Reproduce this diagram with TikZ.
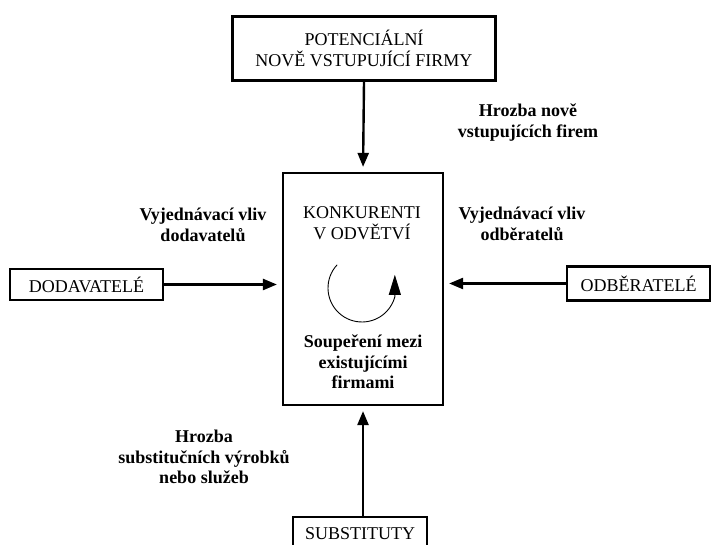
\documentclass[tikz,border=0pt]{standalone}
\usepackage{fontspec}
\setmainfont{Liberation Serif}
\usetikzlibrary{arrows.meta}
\begin{document}
\begin{tikzpicture}[x=1pt,y=1pt,
  box/.style={draw, line width=2.2pt, inner sep=0pt, align=center, font=\fontsize{18}{20.5}\selectfont},
  txt/.style={align=center, font=\fontsize{18}{20.5}\selectfont},
  lbl/.style={align=center, font=\fontsize{18}{20.5}\selectfont\bfseries},
  arr/.style={line width=2.4pt, -{Triangle[length=14pt,width=11pt]}, shorten >=5pt},
]
\useasboundingbox (0,0) rectangle (711,545);
\clip (0,0) rectangle (711,545);
% boxes
\node[box, minimum width=263pt, minimum height=64pt] (pot) at (364,496.5) {POTENCIÁLNÍ\\NOVĚ VSTUPUJÍCÍ FIRMY};
\node[box, minimum width=160pt, minimum height=232pt] (kon) at (363,256) {};
\node[box, minimum width=153pt, minimum height=31pt] (dod) at (86.5,260.5) {DODAVATELÉ};
\node[box, minimum width=143pt, minimum height=34pt] (odb) at (638.5,261.5) {ODBĚRATELÉ};
\node[box, minimum width=134pt, minimum height=33pt] (sub) at (360,11.5) {SUBSTITUTY};
% texts in the centre box
\node[txt] (kont) at (362,322) {KONKURENTI\\V ODVĚTVÍ};
\node[lbl] (soup) at (363,183) {Soupeření mezi\\existujícími\\firmami};
% labels
\node[lbl] (lnew) at (528,422.5) {Hrozba nově\\vstupujících firem};
\node[lbl] (ldod) at (203,320) {Vyjednávací vliv\\dodavatelů};
\node[lbl] (lodb) at (522,321) {Vyjednávací vliv\\odběratelů};
\node[lbl] (lsub) at (204,88) {Hrozba\\substitučních výrobků\\nebo služeb};
% arrows
\draw[arr] (pot.south) -- (kon.north);
\draw[arr] (dod.east) -- (dod.east -| kon.west);
\draw[arr] (odb.west) -- (odb.west -| kon.east);
\draw[arr] (kon.south |- sub.north) -- (kon.south);
% rivalry circle
\coordinate (cc) at (362,257);
\draw[line width=0.9pt, -{Triangle[length=20pt,width=12pt]}] (cc) ++(137:34) arc[start angle=137, end angle=345, radius=34] -- ++(0,22);
\end{tikzpicture}
\end{document}
